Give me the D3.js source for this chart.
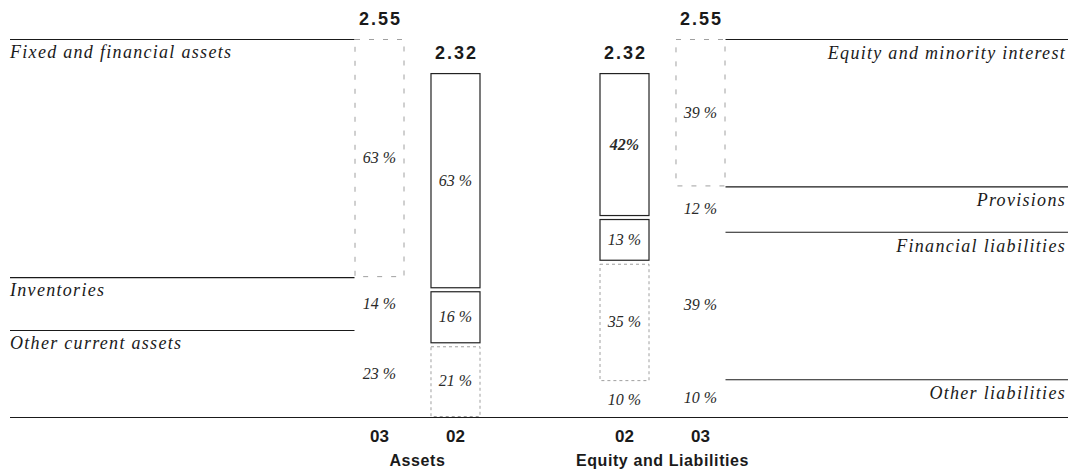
<!DOCTYPE html>
<html>
<head>
<meta charset="utf-8">
<script src="https://cdn.jsdelivr.net/npm/d3@7"></script>
<style>
  body { margin: 0; background: #fff; }
  svg { display: block; }
</style>
</head>
<body>
<svg id="chart" width="1068" height="471"></svg>
<script>
// ---- data ----
const groups = ["Assets", "Equity and Liabilities"];
const assetCategories = ["Fixed and financial assets", "Inventories", "Other current assets"];
const liabilityCategories = ["Equity and minority interest", "Provisions", "Financial liabilities", "Other liabilities"];
const totals03 = 2.55;
const totals02 = 2.32;
const assets03 = [63, 14, 23];
const assets02 = [63, 16, 21];
const liabilities02 = [42, 13, 35, 10];
const liabilities03 = [39, 12, 39, 10];

// ---- layout ----
const svg = d3.select("#chart");
const W = 1068;
const baseY = 417, topY = 39;
const leftX = 10, rightX = 1066;

const y = d3.scaleLinear().domain([0, totals03]).range([baseY, topY]);
const x0 = d3.scalePoint().domain(groups).range([417.5, 662.5]);
const x1A = d3.scaleBand().domain(["03", "02"]).range([-63, 63]).paddingInner(0.342);
const x1E = d3.scaleBand().domain(["02", "03"]).range([-63, 63]).paddingInner(0.342);
const bw = x1A.bandwidth();

const bars = [
  { group: "Assets", year: "03", total: totals03, pcts: assets03 },
  { group: "Assets", year: "02", total: totals02, pcts: assets02 },
  { group: "Equity and Liabilities", year: "02", total: totals02, pcts: liabilities02 },
  { group: "Equity and Liabilities", year: "03", total: totals03, pcts: liabilities03 }
];

function barX(b) {
  const s = b.group === "Assets" ? x1A : x1E;
  return x0(b.group) + s(b.year);
}

bars.forEach(b => {
  let cum = 0;
  b.segs = b.pcts.map((p, i) => {
    const v0 = b.total * (1 - cum / 100);
    cum += p;
    const v1 = b.total * (1 - cum / 100);
    return { p, i, y0: y(v0), y1: y(v1) };
  });
});

const ink = "#1a1a1a";
const serif = "'Liberation Serif', 'DejaVu Serif', serif";
const sans = "'Liberation Sans', Arial, sans-serif";

// baseline
svg.append("line")
  .attr("x1", leftX).attr("x2", W).attr("y1", baseY + 0.5).attr("y2", baseY + 0.5)
  .attr("stroke", ink).attr("stroke-width", 1.2);

// bars
bars.forEach(b => {
  const bx = barX(b);
  const g = svg.append("g");
  b.segs.forEach(s => {
    const is03 = b.year === "03";
    let style = null;
    if (is03) {
      if (s.i === 0) style = "ghost";
    } else {
      if (s.i < 2) style = "solid";
      else if (s.i === 2) style = "dashed";
    }
    const gap = is03 ? 0 : 1.5;
    const yt = s.y0 + (s.i === 0 ? 0 : gap);
    const yb = s.y1 - (s.i === b.segs.length - 1 ? 0 : gap);
    if (style) {
      g.append("rect")
        .attr("x", bx + 0.5).attr("y", yt + 0.5)
        .attr("width", bw - 1).attr("height", Math.max(0, yb - yt - 1))
        .attr("fill", "none")
        .attr("stroke", style === "solid" ? "#222" : "#a0a0a0")
        .attr("stroke-width", style === "solid" ? 1.2 : 1)
        .attr("stroke-dasharray", style === "ghost" ? "5,9" : (style === "dashed" ? "3,3" : null));
    }
    const bold = (b.year === "02" && b.group !== "Assets" && s.i === 0);
    g.append("text")
      .attr("x", bx + bw / 2)
      .attr("y", (s.y0 + s.y1) / 2 + 5)
      .attr("text-anchor", "middle")
      .attr("font-family", serif)
      .attr("font-style", "italic")
      .attr("font-weight", bold ? "bold" : "normal")
      .attr("font-size", 16)
      .attr("fill", "#2a2a2a")
      .text(bold ? s.p + "%" : s.p + " %");
  });
  // total label
  svg.append("text")
    .attr("x", bx + bw / 2 + 1)
    .attr("y", y(b.total) - 14)
    .attr("text-anchor", "middle")
    .attr("font-family", sans).attr("font-weight", "bold")
    .attr("font-size", 18).attr("letter-spacing", 2)
    .attr("fill", ink)
    .text(b.total.toFixed(2));
  // year label
  svg.append("text")
    .attr("x", bx + bw / 2)
    .attr("y", baseY + 25)
    .attr("text-anchor", "middle")
    .attr("font-family", sans).attr("font-weight", "bold")
    .attr("font-size", 17)
    .attr("fill", ink)
    .text(b.year);
});

// group labels
groups.forEach(gname => {
  svg.append("text")
    .attr("x", x0(gname))
    .attr("y", baseY + 49)
    .attr("text-anchor", "middle")
    .attr("font-family", sans).attr("font-weight", "bold")
    .attr("font-size", 16).attr("letter-spacing", 0.6)
    .attr("fill", ink)
    .text(gname);
});

// category guide lines and labels
const leftBar = bars[0], rightBar = bars[3];
const lbx = barX(leftBar), rbx = barX(rightBar) + bw;
leftBar.segs.forEach((s, i) => {
  svg.append("line")
    .attr("x1", leftX).attr("x2", lbx).attr("y1", s.y0 + 0.5).attr("y2", s.y0 + 0.5)
    .attr("stroke", ink).attr("stroke-width", 1.1);
  svg.append("text")
    .attr("x", leftX).attr("y", s.y0 + 19)
    .attr("font-family", serif).attr("font-style", "italic")
    .attr("font-size", 18).attr("letter-spacing", 1.3)
    .attr("fill", ink)
    .text(assetCategories[i]);
});
rightBar.segs.forEach((s, i) => {
  svg.append("line")
    .attr("x1", rbx).attr("x2", W).attr("y1", s.y0 + 0.5).attr("y2", s.y0 + 0.5)
    .attr("stroke", ink).attr("stroke-width", 1.1);
  svg.append("text")
    .attr("x", rightX).attr("y", s.y0 + 20)
    .attr("text-anchor", "end")
    .attr("font-family", serif).attr("font-style", "italic")
    .attr("font-size", 18).attr("letter-spacing", 1.3)
    .attr("fill", ink)
    .text(liabilityCategories[i]);
});
</script>
</body>
</html>
